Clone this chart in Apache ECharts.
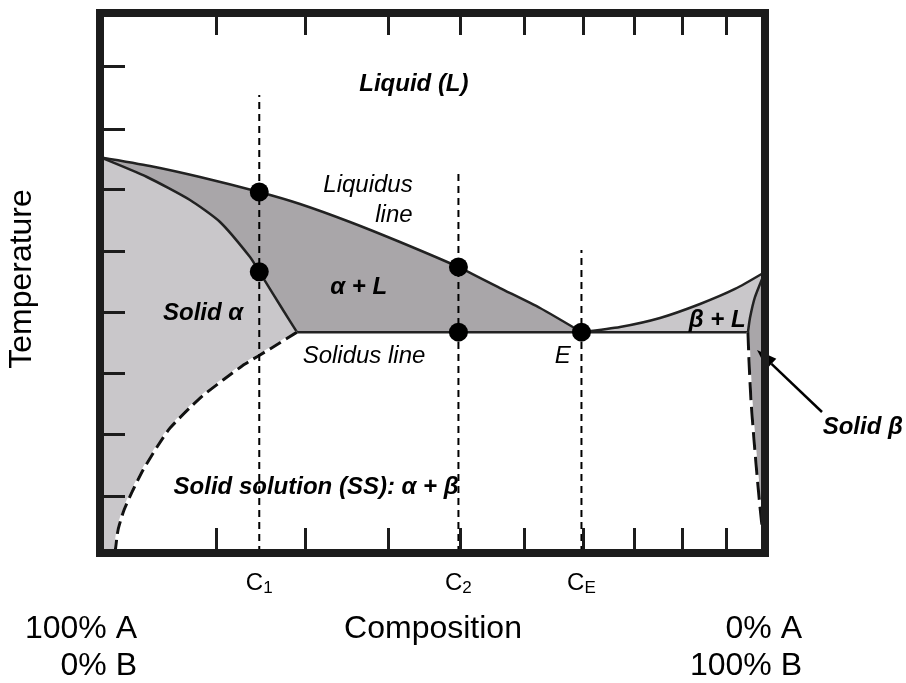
<!DOCTYPE html>
<html><head><meta charset="utf-8">
<script src="https://cdn.jsdelivr.net/npm/echarts@6/dist/echarts.min.js"></script>
<style>html,body{margin:0;padding:0;background:#fff}#c{width:906px;height:683px}</style>
</head><body><div id="c"></div>
<script>
// ---- data (composition 0..100 %B, temperature in arbitrary units 0..100) ----
const xTicks = [17.41, 30.87, 43.35, 54.14, 63.80, 72.63, 80.27, 87.56, 94.11];
const yTicks = [10.56, 22.04, 33.33, 44.63, 55.93, 67.41, 78.52, 90.19];

const liquidusL = [[0,73.3],[7.52,71.67],[15.04,69.63],[23.95,66.85],[30.08,64.63],[37.59,61.3],[45.11,57.59],[53.9,52.96],[60.15,49.07],[66.17,45.37],[72.4,40.9]];
const alphaSolidus = [[0,73.3],[7.07,69.63],[13.53,65.37],[18.05,61.3],[22.56,54.81],[23.95,52.1],[27.52,45.0],[29.62,40.9]];
const alphaSolvus = [[29.62,40.9],[25.56,37.78],[21.8,35.0],[18.5,32.04],[15.04,28.7],[10.53,23.15],[8.57,19.63],[6.47,15.37],[4.96,11.67],[3.61,7.96],[2.71,4.26],[2.26,0]];
const eutectic = [[29.62,40.9],[97.44,40.9]];
const liquidusR = [[72.4,40.9],[78.2,41.85],[84.21,43.52],[90.23,46.11],[95.49,48.89],[100,52.04]];
const betaSolidus = [[100,52.04],[98.5,47.41],[97.74,43.52],[97.44,40.9]];
const betaSolvus = [[97.44,40.9],[97.59,35.74],[97.89,28.33],[98.35,20.93],[98.8,14.44],[99.25,8.52],[99.7,3.33],[100,0]];

const compPos = [23.95, 53.9, 72.4];
const compTop = [84.8, 70.6, 56.1];
const compSub = ['1', '2', 'E'];

const dots = [[23.95,66.85],[23.95,52.1],[53.9,52.96],[53.9,40.9],[72.4,40.9]];

const labelText = ['Liquid (L)','Liquidus','line','α + L','Solid α','Solidus line','E','β + L','Solid solution (SS): α + β','Solid β'];
const labelPos = [[47.2,86.7],[40.3,68.1],[44.2,62.6],[38.9,49.1],[15.5,44.4],[39.7,36.5],[69.6,36.5],[92.8,43.1],[32.5,12.2],[114.7,23.3]];
const labelBold = [1,0,0,1,1,0,0,1,1,1];

const arrowPts = [[108.57,26.11],[98.8,37.59]];

// ---- regions ----
const LIGHT = '#c9c7ca', DARK = '#a9a6a9';
const regions = [
  { pts: [...alphaSolidus, ...alphaSolvus.slice(1), [0,0]], color: LIGHT },
  { pts: [...liquidusL, ...alphaSolidus.slice().reverse()], color: DARK },
  { pts: [...liquidusR, ...betaSolidus.slice(1)], color: LIGHT },
  { pts: [...betaSolidus, ...betaSolvus.slice(1)], color: DARK }
];

const FONT = '"Liberation Sans", Arial, Helvetica, sans-serif';
const INK = '#1c1c1c';

function lineSeries(data, style, smooth) {
  return { type: 'line', data: data, symbol: 'none', silent: true, z: style.z || 3, smooth: smooth || false,
    lineStyle: Object.assign({ color: '#222', width: 2.5 }, style), animation: false };
}

const series = [];
series.push({
  type: 'custom', silent: true, z: 1,
  data: regions.map((r, i) => [i]),
  renderItem: function (params, api) {
    const r = regions[params.dataIndex];
    return { type: 'polygon', shape: { points: r.pts.map(p => api.coord(p)) }, style: { fill: r.color } };
  }
});
series.push(lineSeries(liquidusL, {}, 0.2));
series.push(lineSeries(alphaSolidus, {}, 0.2));
series.push(lineSeries(eutectic, {}));
series.push(lineSeries(liquidusR, {}, 0.2));
series.push(lineSeries(betaSolidus, {}, 0.2));
series.push(lineSeries(alphaSolvus, { color: '#ffffff', width: 3 }, 0.2));
series.push(lineSeries(alphaSolvus, { color: '#111', width: 3, type: [13, 6], z: 4 }, 0.2));
series.push(lineSeries(betaSolvus, { color: '#ffffff', width: 3 }, 0.2));
series.push(lineSeries(betaSolvus, { color: '#111', width: 3, type: [18, 7], z: 4 }, 0.2));
compPos.forEach((x, i) => {
  series.push(lineSeries([[x, 0], [x, compTop[i]]], { color: '#000', width: 2, type: [7, 5], z: 5 }));
});
series.push({
  type: 'scatter', data: dots, symbol: 'circle', symbolSize: 19, z: 6, silent: true,
  itemStyle: { color: '#000', opacity: 1 }, animation: false
});
series.push({
  type: 'scatter', clip: false, silent: true, z: 7, symbolSize: 1,
  itemStyle: { color: 'rgba(0,0,0,0)', opacity: 1 },
  data: labelText.map((t, i) => ({
    value: labelPos[i],
    label: { show: true, position: 'inside', formatter: t, fontFamily: FONT, fontSize: 24, opacity: 1,
      fontStyle: 'italic', fontWeight: labelBold[i] ? 'bold' : 'normal', color: '#000' }
  })),
  animation: false
});
series.push({
  type: 'custom', clip: false, silent: true, z: 8,
  data: [[0]],
  renderItem: function (params, api) {
    const a = api.coord(arrowPts[0]), b = api.coord(arrowPts[1]);
    const dx = b[0] - a[0], dy = b[1] - a[1], L = Math.sqrt(dx * dx + dy * dy);
    const ux = dx / L, uy = dy / L, hl = 20, hw = 7;
    const bx = b[0] - ux * hl, by = b[1] - uy * hl;
    return { type: 'group', children: [
      { type: 'line', shape: { x1: a[0], y1: a[1], x2: bx, y2: by }, style: { stroke: '#000', lineWidth: 2.5 } },
      { type: 'polygon', shape: { points: [b, [bx - uy * hw, by + ux * hw], [bx + uy * hw, by - ux * hw]] }, style: { fill: '#000' } }
    ] };
  }
});

const frameLine = { onZero: false, lineStyle: { color: INK, width: 8, cap: 'square' } };

const option = {
  animation: false,
  grid: { left: 100, right: 141, top: 13, bottom: 130 },
  xAxis: [
    { type: 'value', min: 0, max: 100, position: 'bottom', z: 10,
      axisLine: frameLine,
      axisTick: { show: true, inside: true, length: 25, customValues: xTicks, lineStyle: { color: INK, width: 3 } },
      axisLabel: { show: true, customValues: compPos, margin: 18, color: '#000',
        formatter: function (v) {
          let i = 0, best = 1e9;
          compPos.forEach((p, k) => { if (Math.abs(p - v) < best) { best = Math.abs(p - v); i = k; } });
          return '{c|C}{s|' + compSub[i] + '}';
        },
        rich: { c: { fontFamily: FONT, fontSize: 24, color: '#000' },
                s: { fontFamily: FONT, fontSize: 17, color: '#000', verticalAlign: 'bottom', padding: [0, 0, -2, 0] } } },
      splitLine: { show: false } },
    { type: 'value', min: 0, max: 100, position: 'top', z: 10,
      axisLine: frameLine,
      axisTick: { show: true, inside: true, length: 22, customValues: xTicks, lineStyle: { color: INK, width: 3 } },
      axisLabel: { show: false }, splitLine: { show: false } }
  ],
  yAxis: [
    { type: 'value', min: 0, max: 100, position: 'left', z: 10,
      axisLine: frameLine,
      axisTick: { show: true, inside: true, length: 25, customValues: yTicks, lineStyle: { color: INK, width: 3 } },
      axisLabel: { show: false }, splitLine: { show: false } },
    { type: 'value', min: 0, max: 100, position: 'right', z: 10,
      axisLine: frameLine, axisTick: { show: false }, axisLabel: { show: false }, splitLine: { show: false } }
  ],
  graphic: [
    { type: 'text', x: 22, y: 279, rotation: Math.PI / 2,
      style: { text: 'Temperature', fontFamily: FONT, fontSize: 32, fill: '#000', align: 'center', verticalAlign: 'middle' } },
    { type: 'text', x: 137, y: 629, style: { text: '100% A', fontFamily: FONT, fontSize: 32, fill: '#000', align: 'right', verticalAlign: 'middle' } },
    { type: 'text', x: 137, y: 666, style: { text: '0% B', fontFamily: FONT, fontSize: 32, fill: '#000', align: 'right', verticalAlign: 'middle' } },
    { type: 'text', x: 433, y: 629, style: { text: 'Composition', fontFamily: FONT, fontSize: 32, fill: '#000', align: 'center', verticalAlign: 'middle' } },
    { type: 'text', x: 802, y: 629, style: { text: '0% A', fontFamily: FONT, fontSize: 32, fill: '#000', align: 'right', verticalAlign: 'middle' } },
    { type: 'text', x: 802, y: 666, style: { text: '100% B', fontFamily: FONT, fontSize: 32, fill: '#000', align: 'right', verticalAlign: 'middle' } }
  ],
  series: series
};

const chart = echarts.init(document.getElementById('c'), null, { renderer: 'canvas' });
chart.setOption(option);
</script>
</body></html>
